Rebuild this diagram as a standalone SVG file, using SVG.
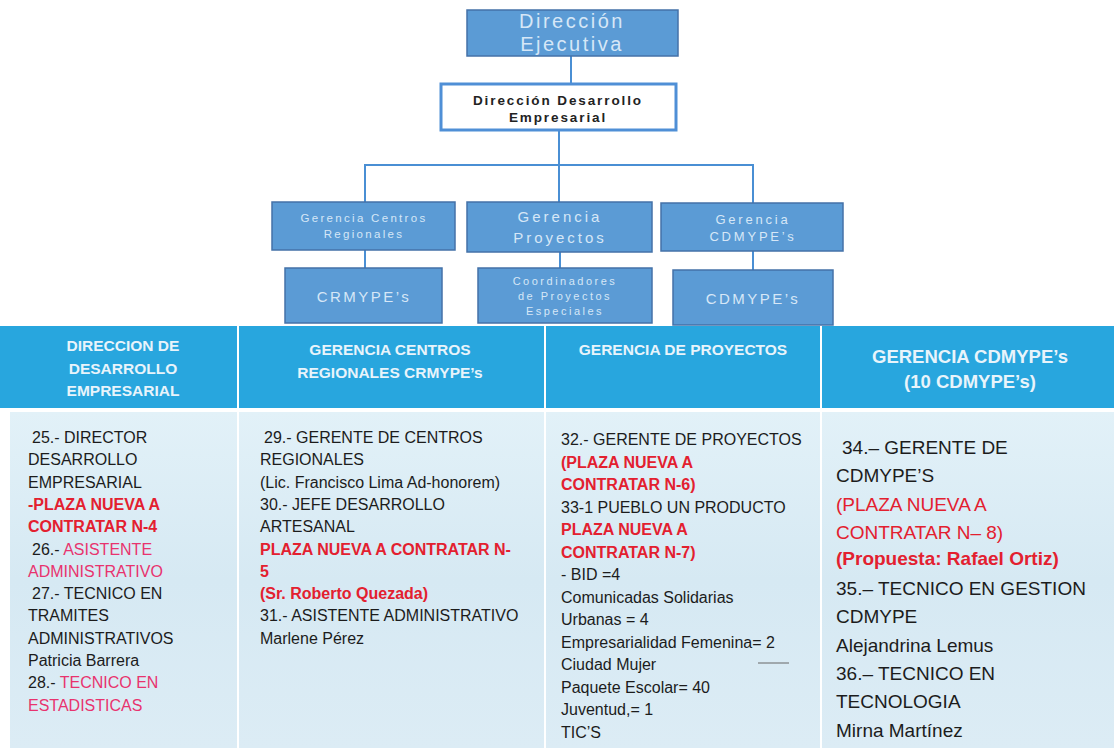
<svg xmlns="http://www.w3.org/2000/svg" width="1114" height="748" viewBox="0 0 1114 748">
<defs>
<style>
.node{fill:#5b9bd5;stroke:#4472a8;stroke-width:1.5}
.ntext{font-family:"Liberation Sans",Arial,sans-serif;fill:#d6e7f7;text-anchor:middle}
.conn{stroke:#4a8fd4;stroke-width:2;fill:none}
.hdr{fill:#28a6de}
.htext{font-family:"Liberation Sans",Arial,sans-serif;font-weight:bold;fill:#e8f4fb;text-anchor:middle}
.body{fill:url(#bodyg)}
.bt{font-family:"Liberation Sans",Arial,sans-serif;font-size:16px;fill:#1c1c1c}
.bt4{font-family:"Liberation Sans",Arial,sans-serif;font-size:19px;fill:#1c1c1c}
.red{fill:#e3202f;font-weight:bold}
.redn{fill:#e3202f}
.pink{fill:#e8336e}
</style>
<linearGradient id="bodyg" x1="0" y1="0" x2="0" y2="1">
<stop offset="0" stop-color="#e2f1f8"/>
<stop offset="0.5" stop-color="#d6e9f3"/>
<stop offset="1" stop-color="#dcecf5"/>
</linearGradient>
</defs>
<rect width="1114" height="748" fill="#ffffff"/>

<g id="connectors">
<line class="conn" x1="571" y1="56" x2="571" y2="84"/>
<line class="conn" x1="559" y1="130" x2="559" y2="165"/>
<polyline class="conn" points="365,202 365,165 753,165 753,203"/>
<line class="conn" x1="559" y1="165" x2="559" y2="202"/>
<line class="conn" x1="365" y1="250" x2="365" y2="268"/>
<line class="conn" x1="560" y1="252" x2="560" y2="268"/>
<line class="conn" x1="753" y1="251" x2="753" y2="270"/>
</g>

<g id="direccion-ejecutiva">
<rect class="node" x="467" y="10" width="211" height="46"/>
<text class="ntext" x="572" y="28" font-size="20" letter-spacing="2.5">Dirección</text>
<text class="ntext" x="572" y="51" font-size="20" letter-spacing="2.5">Ejecutiva</text>
</g>

<g id="direccion-desarrollo">
<rect x="441" y="84" width="235" height="46" fill="#ffffff" stroke="#4f8fd6" stroke-width="3"/>
<text x="558" y="105" font-family="Liberation Sans,Arial,sans-serif" font-size="13.5" font-weight="bold" fill="#222" text-anchor="middle" letter-spacing="1.9">Dirección  Desarrollo</text>
<text x="558" y="122" font-family="Liberation Sans,Arial,sans-serif" font-size="13.5" font-weight="bold" fill="#222" text-anchor="middle" letter-spacing="1.9">Empresarial</text>
</g>

<g id="gerencia-centros">
<rect class="node" x="272" y="202" width="183" height="48"/>
<text class="ntext" x="364" y="222" font-size="11.5" letter-spacing="2.3">Gerencia  Centros</text>
<text class="ntext" x="364" y="238" font-size="11.5" letter-spacing="2.3">Regionales</text>
</g>

<g id="gerencia-proyectos">
<rect class="node" x="467" y="202" width="185" height="50"/>
<text class="ntext" x="560" y="222" font-size="15" letter-spacing="3">Gerencia</text>
<text class="ntext" x="560" y="243" font-size="15" letter-spacing="3">Proyectos</text>
</g>

<g id="gerencia-cdmype">
<rect class="node" x="661" y="203" width="182" height="48"/>
<text class="ntext" x="753" y="224" font-size="13" letter-spacing="2.8">Gerencia</text>
<text class="ntext" x="753" y="241" font-size="13" letter-spacing="2.8">CDMYPE’s</text>
</g>

<g id="crmype">
<rect class="node" x="285" y="268" width="157" height="55"/>
<text class="ntext" x="364" y="302" font-size="15" letter-spacing="2.5">CRMYPE’s</text>
</g>

<g id="coordinadores">
<rect class="node" x="478" y="268" width="174" height="55"/>
<text class="ntext" x="565" y="285" font-size="11" letter-spacing="2.5">Coordinadores</text>
<text class="ntext" x="565" y="300" font-size="11" letter-spacing="2.5">de Proyectos</text>
<text class="ntext" x="565" y="315" font-size="11" letter-spacing="2.5">Especiales</text>
</g>

<g id="cdmype">
<rect class="node" x="673" y="270" width="160" height="55"/>
<text class="ntext" x="753" y="304" font-size="15" letter-spacing="2.5">CDMYPE’s</text>
</g>

<g id="table-headers">
<rect class="hdr" x="0" y="326" width="237" height="82"/>
<rect class="hdr" x="239" y="326" width="305" height="82"/>
<rect class="hdr" x="546" y="326" width="274" height="82"/>
<rect class="hdr" x="822" y="326" width="292" height="82"/>
<text class="htext" x="123" y="351" font-size="15.5">DIRECCION  DE</text>
<text class="htext" x="123" y="374" font-size="15.5">DESARROLLO</text>
<text class="htext" x="123" y="396" font-size="15.5">EMPRESARIAL</text>
<text class="htext" x="390" y="355" font-size="15.5">GERENCIA CENTROS</text>
<text class="htext" x="390" y="378" font-size="15.5">REGIONALES CRMYPE’s</text>
<text class="htext" x="683" y="355" font-size="15.5">GERENCIA DE PROYECTOS</text>
<text class="htext" x="970" y="363" font-size="18.5">GERENCIA CDMYPE’s</text>
<text class="htext" x="970" y="388" font-size="18.5">(10 CDMYPE’s)</text>
</g>

<g id="col-direccion">
<rect class="body" x="10" y="412" width="227" height="336"/>
<text class="bt" x="32" y="443">25.- DIRECTOR</text>
<text class="bt" x="28" y="465.3">DESARROLLO</text>
<text class="bt" x="28" y="487.6">EMPRESARIAL</text>
<text class="bt red" x="28" y="509.9">-PLAZA NUEVA A</text>
<text class="bt red" x="28" y="532.2">CONTRATAR N-4</text>
<text class="bt" x="32" y="554.5">26.- <tspan class="pink">ASISTENTE</tspan></text>
<text class="bt pink" x="28" y="576.8">ADMINISTRATIVO</text>
<text class="bt" x="32" y="599.1">27.- TECNICO EN</text>
<text class="bt" x="28" y="621.4">TRAMITES</text>
<text class="bt" x="28" y="643.7">ADMINISTRATIVOS</text>
<text class="bt" x="28" y="666">Patricia Barrera</text>
<text class="bt" x="28" y="688.3">28.- <tspan class="pink">TECNICO EN</tspan></text>
<text class="bt pink" x="28" y="710.6">ESTADISTICAS</text>
</g>

<g id="col-centros">
<rect class="body" x="239" y="412" width="305" height="336"/>
<text class="bt" x="264" y="443">29.- GERENTE DE CENTROS</text>
<text class="bt" x="260" y="465.3">REGIONALES</text>
<text class="bt" x="260" y="487.6">(Lic. Francisco Lima Ad-honorem)</text>
<text class="bt" x="260" y="509.9">30.- JEFE DESARROLLO</text>
<text class="bt" x="260" y="532.2">ARTESANAL</text>
<text class="bt red" x="260" y="554.5">PLAZA NUEVA A CONTRATAR N-</text>
<text class="bt red" x="260" y="576.8">5</text>
<text class="bt red" x="260" y="599.1">(Sr. Roberto Quezada)</text>
<text class="bt" x="260" y="621.4">31.- ASISTENTE ADMINISTRATIVO</text>
<text class="bt" x="260" y="643.7">Marlene Pérez</text>
</g>

<g id="col-proyectos">
<rect class="body" x="546" y="412" width="274" height="336"/>
<text class="bt" x="561" y="445">32.- GERENTE DE PROYECTOS</text>
<text class="bt red" x="561" y="467.5">(PLAZA NUEVA A</text>
<text class="bt red" x="561" y="490">CONTRATAR N-6)</text>
<text class="bt" x="561" y="512.5">33-1 PUEBLO UN PRODUCTO</text>
<text class="bt red" x="561" y="535">PLAZA NUEVA A</text>
<text class="bt red" x="561" y="557.5">CONTRATAR N-7)</text>
<text class="bt" x="561" y="580">- BID =4</text>
<text class="bt" x="561" y="602.5">Comunicadas Solidarias</text>
<text class="bt" x="561" y="625">Urbanas = 4</text>
<text class="bt" x="561" y="647.5">Empresarialidad Femenina= 2</text>
<text class="bt" x="561" y="670">Ciudad Mujer</text>
<line x1="758" y1="663" x2="789" y2="663" stroke="#666" stroke-width="1"/>
<text class="bt" x="561" y="692.5">Paquete Escolar= 40</text>
<text class="bt" x="561" y="715">Juventud,= 1</text>
<text class="bt" x="561" y="737.5">TIC’S</text>
</g>

<g id="col-cdmype">
<rect class="body" x="822" y="412" width="292" height="336"/>
<text class="bt4" x="842" y="454">34.– GERENTE DE</text>
<text class="bt4" x="836" y="482.3">CDMYPE’S</text>
<text class="bt4 redn" x="836" y="510.6">(PLAZA NUEVA A</text>
<text class="bt4 redn" x="836" y="538.9">CONTRATAR N– 8)</text>
<text class="bt4 red" x="836" y="565" font-size="18.5">(Propuesta: Rafael Ortiz)</text>
<text class="bt4" x="836" y="595">35.– TECNICO EN GESTION</text>
<text class="bt4" x="836" y="623.3">CDMYPE</text>
<text class="bt4" x="836" y="651.6">Alejandrina Lemus</text>
<text class="bt4" x="836" y="679.9">36.– TECNICO EN</text>
<text class="bt4" x="836" y="708.2">TECNOLOGIA</text>
<text class="bt4" x="836" y="736.5">Mirna Martínez</text>
</g>
</svg>
